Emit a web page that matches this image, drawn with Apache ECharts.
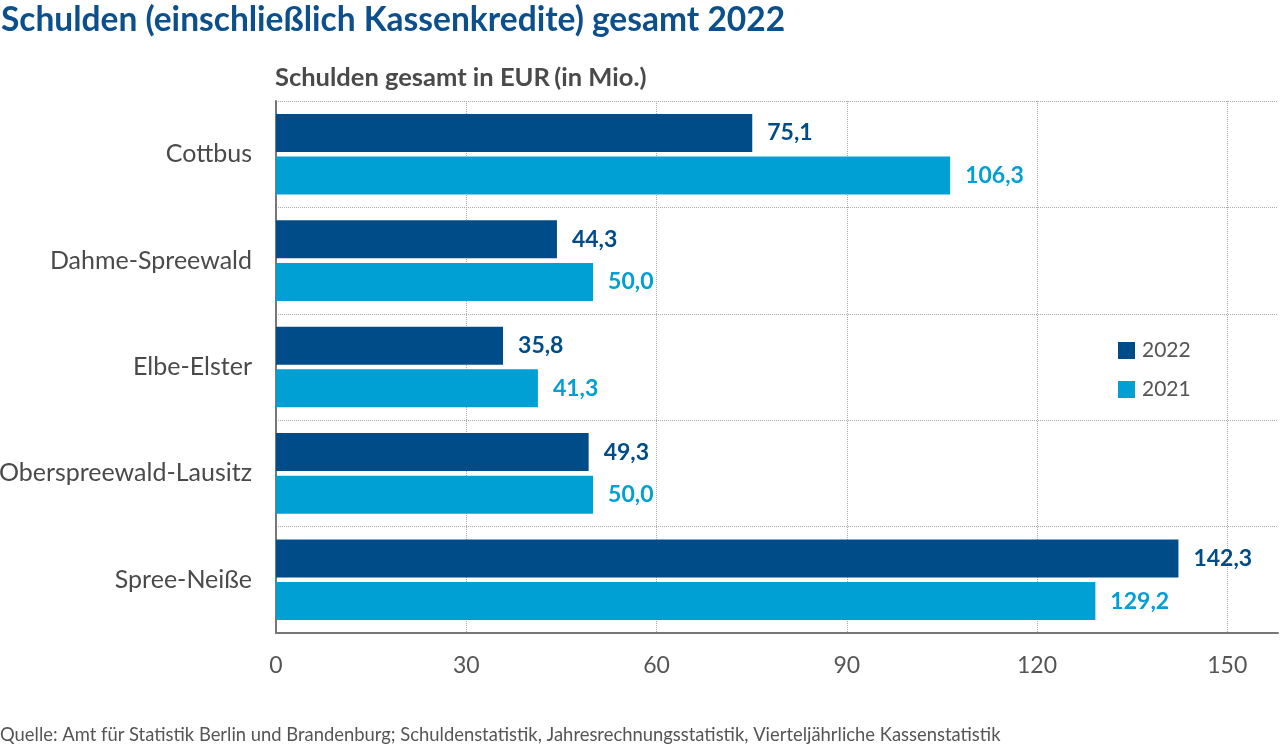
<!DOCTYPE html>
<html><head><meta charset="utf-8">
<script src="https://cdn.jsdelivr.net/npm/echarts@6/dist/echarts.min.js"></script>
<style>html,body{margin:0;padding:0;background:#fff}#c{width:1280px;height:745px}</style>
</head><body><div id="c"></div>
<script>
const categories = ['Cottbus', 'Dahme-Spreewald', 'Elbe-Elster', 'Oberspreewald-Lausitz', 'Spree-Neiße'];
const values2022 = [75.1, 44.3, 35.8, 49.3, 142.3];
const values2021 = [106.3, 50.0, 41.3, 50.0, 129.2];
const seriesNames = ['2022', '2021'];
const xTicks = [0, 30, 60, 90, 120, 150];

const DARK = '#004c89';
const LIGHT = '#009fd4';
const FONT = 'Lato';
const fmt = v => v.toFixed(1).replace('.', ',');

const chart = echarts.init(document.getElementById('c'), null, {renderer: 'canvas'});
chart.setOption({
  animation: false,
  textStyle: {fontFamily: FONT},
  title: [
    {text: 'Schulden (einschließlich Kassenkredite) gesamt 2022', left: -4, top: -2,
     textStyle: {fontFamily: FONT, fontWeight: 'bold', fontSize: 33.5, color: '#0b4f8d'}},
    {text: '{a|Schulden gesamt in EUR} {b|(in Mio.)}', left: 270, top: 60,
     textStyle: {rich: {
       a: {fontFamily: FONT, fontWeight: 'bold', fontSize: 25.5, color: '#4a4a4a'},
       b: {fontFamily: FONT, fontSize: 25.5, color: '#4a4a4a'}}}},
    {text: 'Quelle: Amt für Statistik Berlin und Brandenburg; Schuldenstatistik, Jahresrechnungsstatistik, Vierteljährliche Kassenstatistik',
     left: -5, top: 721, textStyle: {fontFamily: FONT, fontWeight: 'normal', fontSize: 18.4, color: '#555'}}
  ],
  legend: {
    orient: 'vertical', left: 1113, top: 335, itemWidth: 17, itemHeight: 17, itemGap: 18,
    icon: 'rect', data: seriesNames,
    textStyle: {fontFamily: FONT, fontSize: 21, color: '#555', padding: [0, 0, 0, 2]}
  },
  grid: {left: 276, right: 2, top: 101, bottom: 112, containLabel: false, outerBoundsMode: 'none'},
  xAxis: {
    type: 'value', min: xTicks[0], max: 158, interval: 30,
    axisLine: {show: true, lineStyle: {color: '#777', width: 2}},
    axisTick: {show: false},
    axisLabel: {show: true, showMaxLabel: false, fontFamily: FONT, fontSize: 23, color: '#555', margin: 21},
    splitLine: {show: true, showMinLine: false, showMaxLine: false, lineStyle: {type: 'dotted', color: '#aaa', width: 1}}
  },
  yAxis: {
    type: 'category', data: categories, inverse: true,
    axisLine: {show: true, lineStyle: {color: '#777', width: 2}},
    axisTick: {show: false},
    axisLabel: {fontFamily: FONT, fontSize: 25, color: '#4a4a4a', margin: 24},
    splitLine: {show: true, lineStyle: {type: 'dotted', color: '#aaa', width: 1}}
  },
  series: [
    {name: seriesNames[0], type: 'bar', data: values2022, barWidth: 38, barGap: '12%',
     itemStyle: {color: DARK},
     label: {show: true, position: 'right', distance: 15, formatter: p => fmt(p.value),
             fontFamily: FONT, fontWeight: 'bold', fontSize: 23, color: DARK}},
    {name: seriesNames[1], type: 'bar', data: values2021, barWidth: 38,
     itemStyle: {color: LIGHT},
     label: {show: true, position: 'right', distance: 15, formatter: p => fmt(p.value),
             fontFamily: FONT, fontWeight: 'bold', fontSize: 23, color: LIGHT}}
  ]
});
</script></body></html>
